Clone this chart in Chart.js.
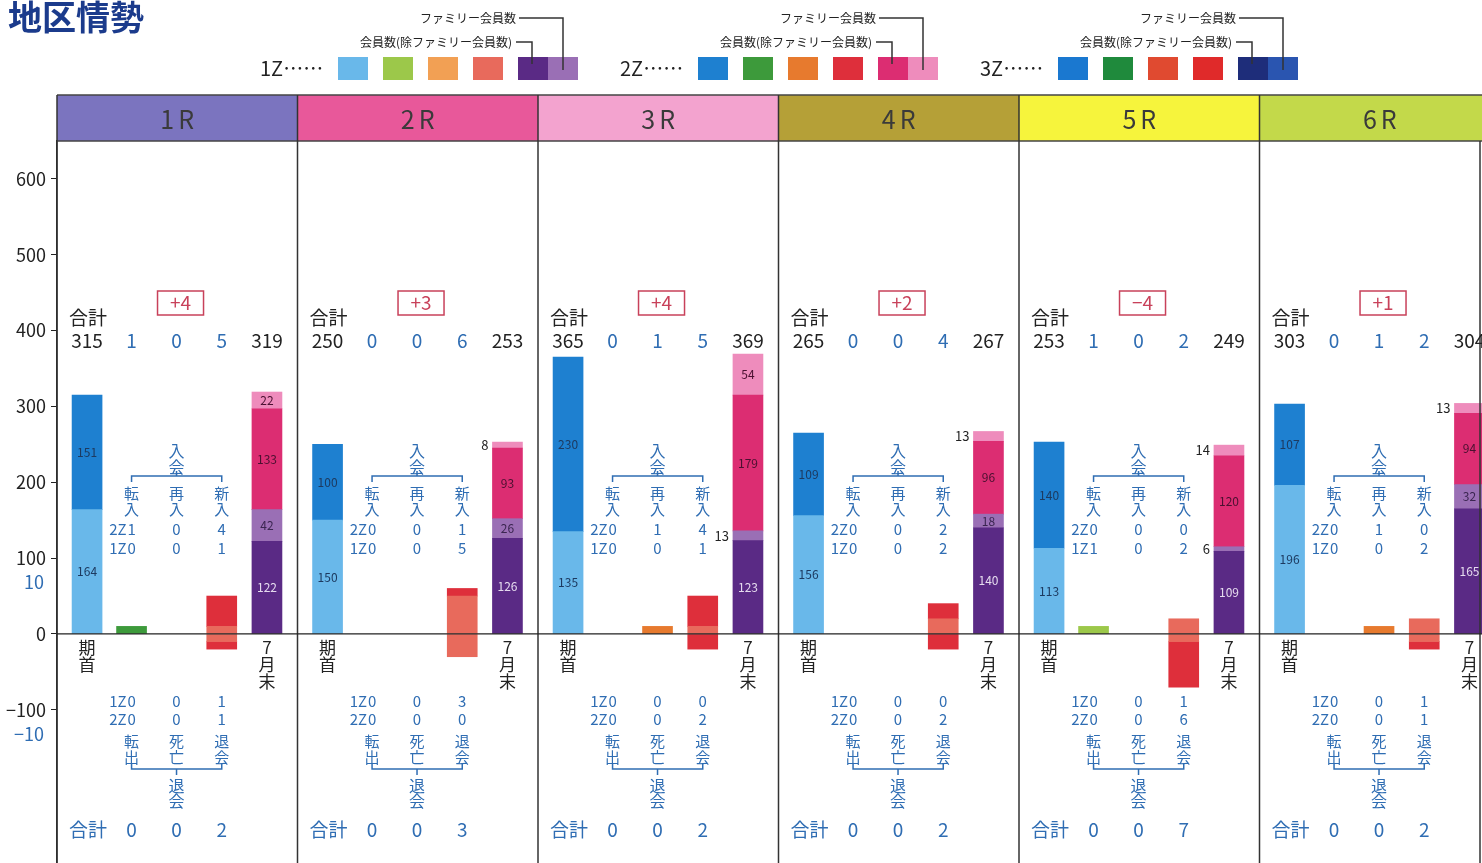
<!DOCTYPE html>
<html lang="ja">
<head>
<meta charset="utf-8">
<title>地区情勢</title>
<script src="https://cdn.jsdelivr.net/npm/chart.js@4.4.1/dist/chart.umd.min.js"></script>
<style>
  html, body { margin: 0; padding: 0; background: #fff; }
  #wrap { width: 1482px; height: 863px; position: relative; }
</style>
</head>
<body>
<div id="wrap"><canvas id="chart"></canvas></div>
<script>
// ---- data ----
const regions = ["1R", "2R", "3R", "4R", "5R", "6R"];
const headerColors = ["#7b74bf", "#e8589a", "#f3a3cf", "#b5a037", "#f6f43c", "#c3d94a"];

// members at start of term
const start1Z = [164, 150, 135, 156, 113, 196];
const start2Z = [151, 100, 230, 109, 140, 107];

// members at end of July
const end1Z = [122, 126, 123, 140, 109, 165];
const end1ZFamily = [42, 26, 13, 18, 6, 32];
const end2Z = [133, 93, 179, 96, 120, 94];
const end2ZFamily = [22, 8, 54, 13, 14, 13];

// joins (転入 / 再入 / 新入)
const tennyu1Z = [0, 0, 0, 0, 1, 0];
const tennyu2Z = [1, 0, 0, 0, 0, 0];
const sainyu1Z = [0, 0, 0, 0, 0, 0];
const sainyu2Z = [0, 0, 1, 0, 0, 1];
const shinnyu1Z = [1, 5, 1, 2, 2, 2];
const shinnyu2Z = [4, 1, 4, 2, 0, 0];

// leaves (転出 / 死亡 / 退会)
const tenshutsu1Z = [0, 0, 0, 0, 0, 0];
const tenshutsu2Z = [0, 0, 0, 0, 0, 0];
const shibou1Z = [0, 0, 0, 0, 0, 0];
const shibou2Z = [0, 0, 0, 0, 0, 0];
const taikai1Z = [1, 3, 0, 0, 1, 1];
const taikai2Z = [1, 0, 2, 2, 6, 1];

const yTicks = [600, 500, 400, 300, 200, 100, 0, -100];

// ---- layout ----
const POS = { start: 0.125, col1: 0.31, col2: 0.497, col3: 0.685, end: 0.873 };
const SMALL_FACTOR = 10;   // join/leave bars drawn on the x10 scale
const FONT = "'Noto Sans CJK JP', 'Noto Sans', sans-serif";
const BLUE = "#2f6db3";
const INK = "#222";

const sum = arrs => arrs[0].map((_, i) => arrs.reduce((s, a) => s + a[i], 0));
const startTotal = sum([start1Z, start2Z]);
const endTotal = sum([end1Z, end1ZFamily, end2Z, end2ZFamily]);
const signed = v => (v < 0 ? "−" + Math.abs(v) : String(v));

function stack(parts, pos, factor, sign) {
  return parts.map((arr, k) => {
    const pts = [];
    arr.forEach((v, i) => {
      if (!v) return;
      let below = 0;
      for (let j = 0; j < k; j++) below += parts[j][i];
      pts.push({ x: i + pos, y: [sign * below * factor, sign * (below + v) * factor] });
    });
    return pts;
  });
}

function makeSets(parts, pos, factor, sign, colors) {
  return stack(parts, pos, factor, sign).map((data, k) => ({
    data: data,
    backgroundColor: colors[k],
    borderWidth: 0,
    barThickness: 30,
    grouped: false,
  }));
}

const datasets = [
  ...makeSets([start1Z, start2Z], POS.start, 1, 1, ["#69b8ea", "#1e80d0"]),
  ...makeSets([end1Z, end1ZFamily, end2Z, end2ZFamily], POS.end, 1, 1,
              ["#5a2a85", "#9a6fb5", "#dc2d72", "#ee8cbc"]),
  ...makeSets([tennyu1Z, tennyu2Z], POS.col1, SMALL_FACTOR, 1, ["#9cc84a", "#3d9a3b"]),
  ...makeSets([sainyu1Z, sainyu2Z], POS.col2, SMALL_FACTOR, 1, ["#f2a054", "#e77a2e"]),
  ...makeSets([shinnyu1Z, shinnyu2Z], POS.col3, SMALL_FACTOR, 1, ["#e86a5c", "#de2f3b"]),
  ...makeSets([tenshutsu1Z, tenshutsu2Z], POS.col1, SMALL_FACTOR, -1, ["#9cc84a", "#3d9a3b"]),
  ...makeSets([shibou1Z, shibou2Z], POS.col2, SMALL_FACTOR, -1, ["#f2a054", "#e77a2e"]),
  ...makeSets([taikai1Z, taikai2Z], POS.col3, SMALL_FACTOR, -1, ["#e86a5c", "#de2f3b"]),
];

// ---- drawing helpers ----
function text(ctx, s, x, y, size, color, align, weight) {
  ctx.font = (weight || "normal") + " " + size + "px " + FONT;
  ctx.fillStyle = color;
  ctx.textAlign = align || "center";
  ctx.textBaseline = "middle";
  ctx.fillText(s, x, y);
}
function vtext(ctx, s, x, y0, step, size, color) {
  [...s].forEach((ch, k) => text(ctx, ch, x, y0 + k * step, size, color));
}
function line(ctx, pts, color, w) {
  ctx.strokeStyle = color;
  ctx.lineWidth = w;
  ctx.beginPath();
  pts.forEach((p, k) => k ? ctx.lineTo(p[0], p[1]) : ctx.moveTo(p[0], p[1]));
  ctx.stroke();
}

const legendGroups = [
  { label: "1Z", x: 260, colors: ["#69b8ea", "#9cc84a", "#f2a054", "#e86a5c", "#5a2a85", "#9a6fb5"] },
  { label: "2Z", x: 620, colors: ["#1e80d0", "#3d9a3b", "#e77a2e", "#de2f3b", "#dc2d72", "#ee8cbc"] },
  { label: "3Z", x: 980, colors: ["#1a78d0", "#1f8a3c", "#e04a30", "#e02a2a", "#1e2d7a", "#2a55b0"] },
];

const annot = {
  id: "annot",
  beforeDraw(chart) {
    const ctx = chart.ctx;
    ctx.save();
    ctx.fillStyle = "#fff";
    ctx.fillRect(0, 0, chart.width, chart.height);
    ctx.restore();
  },
  afterDraw(chart) {
    const ctx = chart.ctx;
    const xs = chart.scales.x, ys = chart.scales.y;
    const area = chart.chartArea;
    const px = v => xs.getPixelForValue(v);
    const py = v => ys.getPixelForValue(v);
    ctx.save();

    // title
    text(ctx, "地区情勢", 8, 17, 34, "#1b3b8c", "left", "bold");

    // legend
    legendGroups.forEach(g => {
      text(ctx, g.label + "……", g.x, 68, 20, INK, "left");
      const sx = [0, 45, 90, 135, 180, 210].map(d => g.x + 78 + d);
      g.colors.forEach((c, k) => { ctx.fillStyle = c; ctx.fillRect(sx[k], 57, 30, 23); });
      text(ctx, "ファミリー会員数", sx[4] - 2, 18, 12, INK, "right");
      text(ctx, "会員数(除ファミリー会員数)", sx[4] - 6, 42, 12, INK, "right");
      line(ctx, [[sx[4] + 1, 18], [sx[5] + 15, 18], [sx[5] + 15, 70]], "#333", 1.5);
      line(ctx, [[sx[4] - 2, 42], [sx[4] + 14, 42], [sx[4] + 14, 64]], "#333", 1.5);
    });

    // headers
    regions.forEach((r, i) => {
      const x0 = px(i), x1 = Math.min(px(i + 1), chart.width);
      ctx.fillStyle = headerColors[i];
      ctx.fillRect(x0, 95, x1 - x0, 46);
      ctx.letterSpacing = "4px";
      text(ctx, r, (x0 + px(i + 1)) / 2 + 2, 119, 25, "#3a3a3a");
      ctx.letterSpacing = "0px";
    });
    line(ctx, [[area.left, 95], [chart.width, 95]], "#444", 1.5);
    line(ctx, [[area.left, 141], [chart.width, 141]], "#444", 1.5);
    for (let i = 0; i < 6; i++) {
      line(ctx, [[px(i), 95], [px(i), chart.height]], "#333", 1.5);
    }
    line(ctx, [[1480, 141], [1480, chart.height]], "#333", 1.5);

    // zero line
    line(ctx, [[area.left, py(0)], [area.right, py(0)]], "#222", 1.3);

    // secondary scale labels
    text(ctx, "10", 44, py(100) + 24, 18, BLUE, "right");
    text(ctx, "−10", 44, py(-100) + 24, 18, BLUE, "right");

    regions.forEach((r, i) => {
      const xl = px(i) + 12;
      const xs0 = px(i + POS.start), xe = px(i + POS.end);
      const c1 = px(i + POS.col1), c2 = px(i + POS.col2), c3 = px(i + POS.col3);
      const inT = [tennyu1Z[i] + tennyu2Z[i], sainyu1Z[i] + sainyu2Z[i], shinnyu1Z[i] + shinnyu2Z[i]];
      const outT = [tenshutsu1Z[i] + tenshutsu2Z[i], shibou1Z[i] + shibou2Z[i], taikai1Z[i] + taikai2Z[i]];
      const diff = endTotal[i] - startTotal[i];

      // change box
      const bx = c2 + 4;
      ctx.strokeStyle = "#c8415a";
      ctx.lineWidth = 1.5;
      ctx.strokeRect(bx - 23, 291, 46, 24);
      text(ctx, (diff >= 0 ? "+" : "−") + Math.abs(diff), bx, 303, 19, "#c8415a");

      // totals row
      text(ctx, "合計", xl, 318, 19, INK, "left");
      text(ctx, String(startTotal[i]), xs0, 341, 19, INK);
      [c1, c2, c3].forEach((c, k) => text(ctx, String(inT[k]), c, 341, 19, BLUE));
      text(ctx, String(endTotal[i]), xe, 341, 19, INK);

      // join block
      vtext(ctx, "入会", c2, 451, 16, 16, BLUE);
      line(ctx, [[c1, 482], [c1, 476], [c3, 476], [c3, 482]], BLUE, 1.5);
      line(ctx, [[c2, 476], [c2, 471]], BLUE, 1.5);
      vtext(ctx, "転入", c1, 493, 16, 15, BLUE);
      vtext(ctx, "再入", c2, 493, 16, 15, BLUE);
      vtext(ctx, "新入", c3, 493, 16, 15, BLUE);
      text(ctx, "2Z", c1 - 5, 529, 15, BLUE, "right");
      text(ctx, "1Z", c1 - 5, 548, 15, BLUE, "right");
      [[tennyu2Z, tennyu1Z], [sainyu2Z, sainyu1Z], [shinnyu2Z, shinnyu1Z]].forEach((pair, k) => {
        const c = [c1, c2, c3][k];
        text(ctx, String(pair[0][i]), c, 529, 15, BLUE);
        text(ctx, String(pair[1][i]), c, 548, 15, BLUE);
      });

      // axis captions
      vtext(ctx, "期首", xs0, 648, 17, 17, INK);
      vtext(ctx, "7月末", xe, 648, 17, 17, INK);

      // leave block
      text(ctx, "1Z", c1 - 5, 701, 15, BLUE, "right");
      text(ctx, "2Z", c1 - 5, 719, 15, BLUE, "right");
      [[tenshutsu1Z, tenshutsu2Z], [shibou1Z, shibou2Z], [taikai1Z, taikai2Z]].forEach((pair, k) => {
        const c = [c1, c2, c3][k];
        text(ctx, String(pair[0][i]), c, 701, 15, BLUE);
        text(ctx, String(pair[1][i]), c, 719, 15, BLUE);
      });
      vtext(ctx, "転出", c1, 741, 16, 15, BLUE);
      vtext(ctx, "死亡", c2, 741, 16, 15, BLUE);
      vtext(ctx, "退会", c3, 741, 16, 15, BLUE);
      line(ctx, [[c1, 763], [c1, 769], [c3, 769], [c3, 763]], BLUE, 1.5);
      line(ctx, [[c2, 769], [c2, 775]], BLUE, 1.5);
      vtext(ctx, "退会", c2, 786, 15, 16, BLUE);
      text(ctx, "合計", xl, 830, 19, BLUE, "left");
      [c1, c2, c3].forEach((c, k) => text(ctx, String(outT[k]), c, 830, 19, BLUE));

      // segment labels
      const segLabels = (parts, x, colors) => {
        let base = 0;
        parts.forEach((arr, k) => {
          const v = arr[i];
          const yc = py(base + v / 2);
          if (v <= 14) text(ctx, String(v), x - 19, yc, 13, INK, "right");
          else text(ctx, String(v), x, yc, 12, colors[k]);
          base += v;
        });
      };
      segLabels([start1Z, start2Z], xs0, ["#1d3a60", "#1d3a60"]);
      segLabels([end1Z, end1ZFamily, end2Z, end2ZFamily], xe, ["#e6dcef", "#3a2550", "#4a1030", "#4a1030"]);
    });

    ctx.restore();
  },
};

const ctx = document.getElementById("chart").getContext("2d");
const chart = new Chart(ctx, {
  type: "bar",
  data: { datasets: datasets },
  plugins: [annot],
  options: {
    responsive: true,
    maintainAspectRatio: false,
    animation: false,
    layout: { padding: { top: 141, left: 0, right: 0, bottom: 0 } },
    plugins: { legend: { display: false }, tooltip: { enabled: false } },
    scales: {
      x: { type: "linear", min: 0, max: 1425 / 240.5, offset: false, display: false },
      y: {
        min: -302,
        max: 650,
        afterFit: s => { s.width = 57; s.paddingTop = 0; s.paddingBottom = 0; },
        afterBuildTicks: s => { s.ticks = yTicks.map(v => ({ value: v })); },
        grid: { drawOnChartArea: false, drawTicks: true, tickLength: 6, color: "#222" },
        border: { display: true, color: "#222", width: 1.5 },
        ticks: { color: INK, padding: 5, font: { size: 18, family: FONT }, callback: v => signed(v) },
      },
    },
  },
});
</script>
</body>
</html>
